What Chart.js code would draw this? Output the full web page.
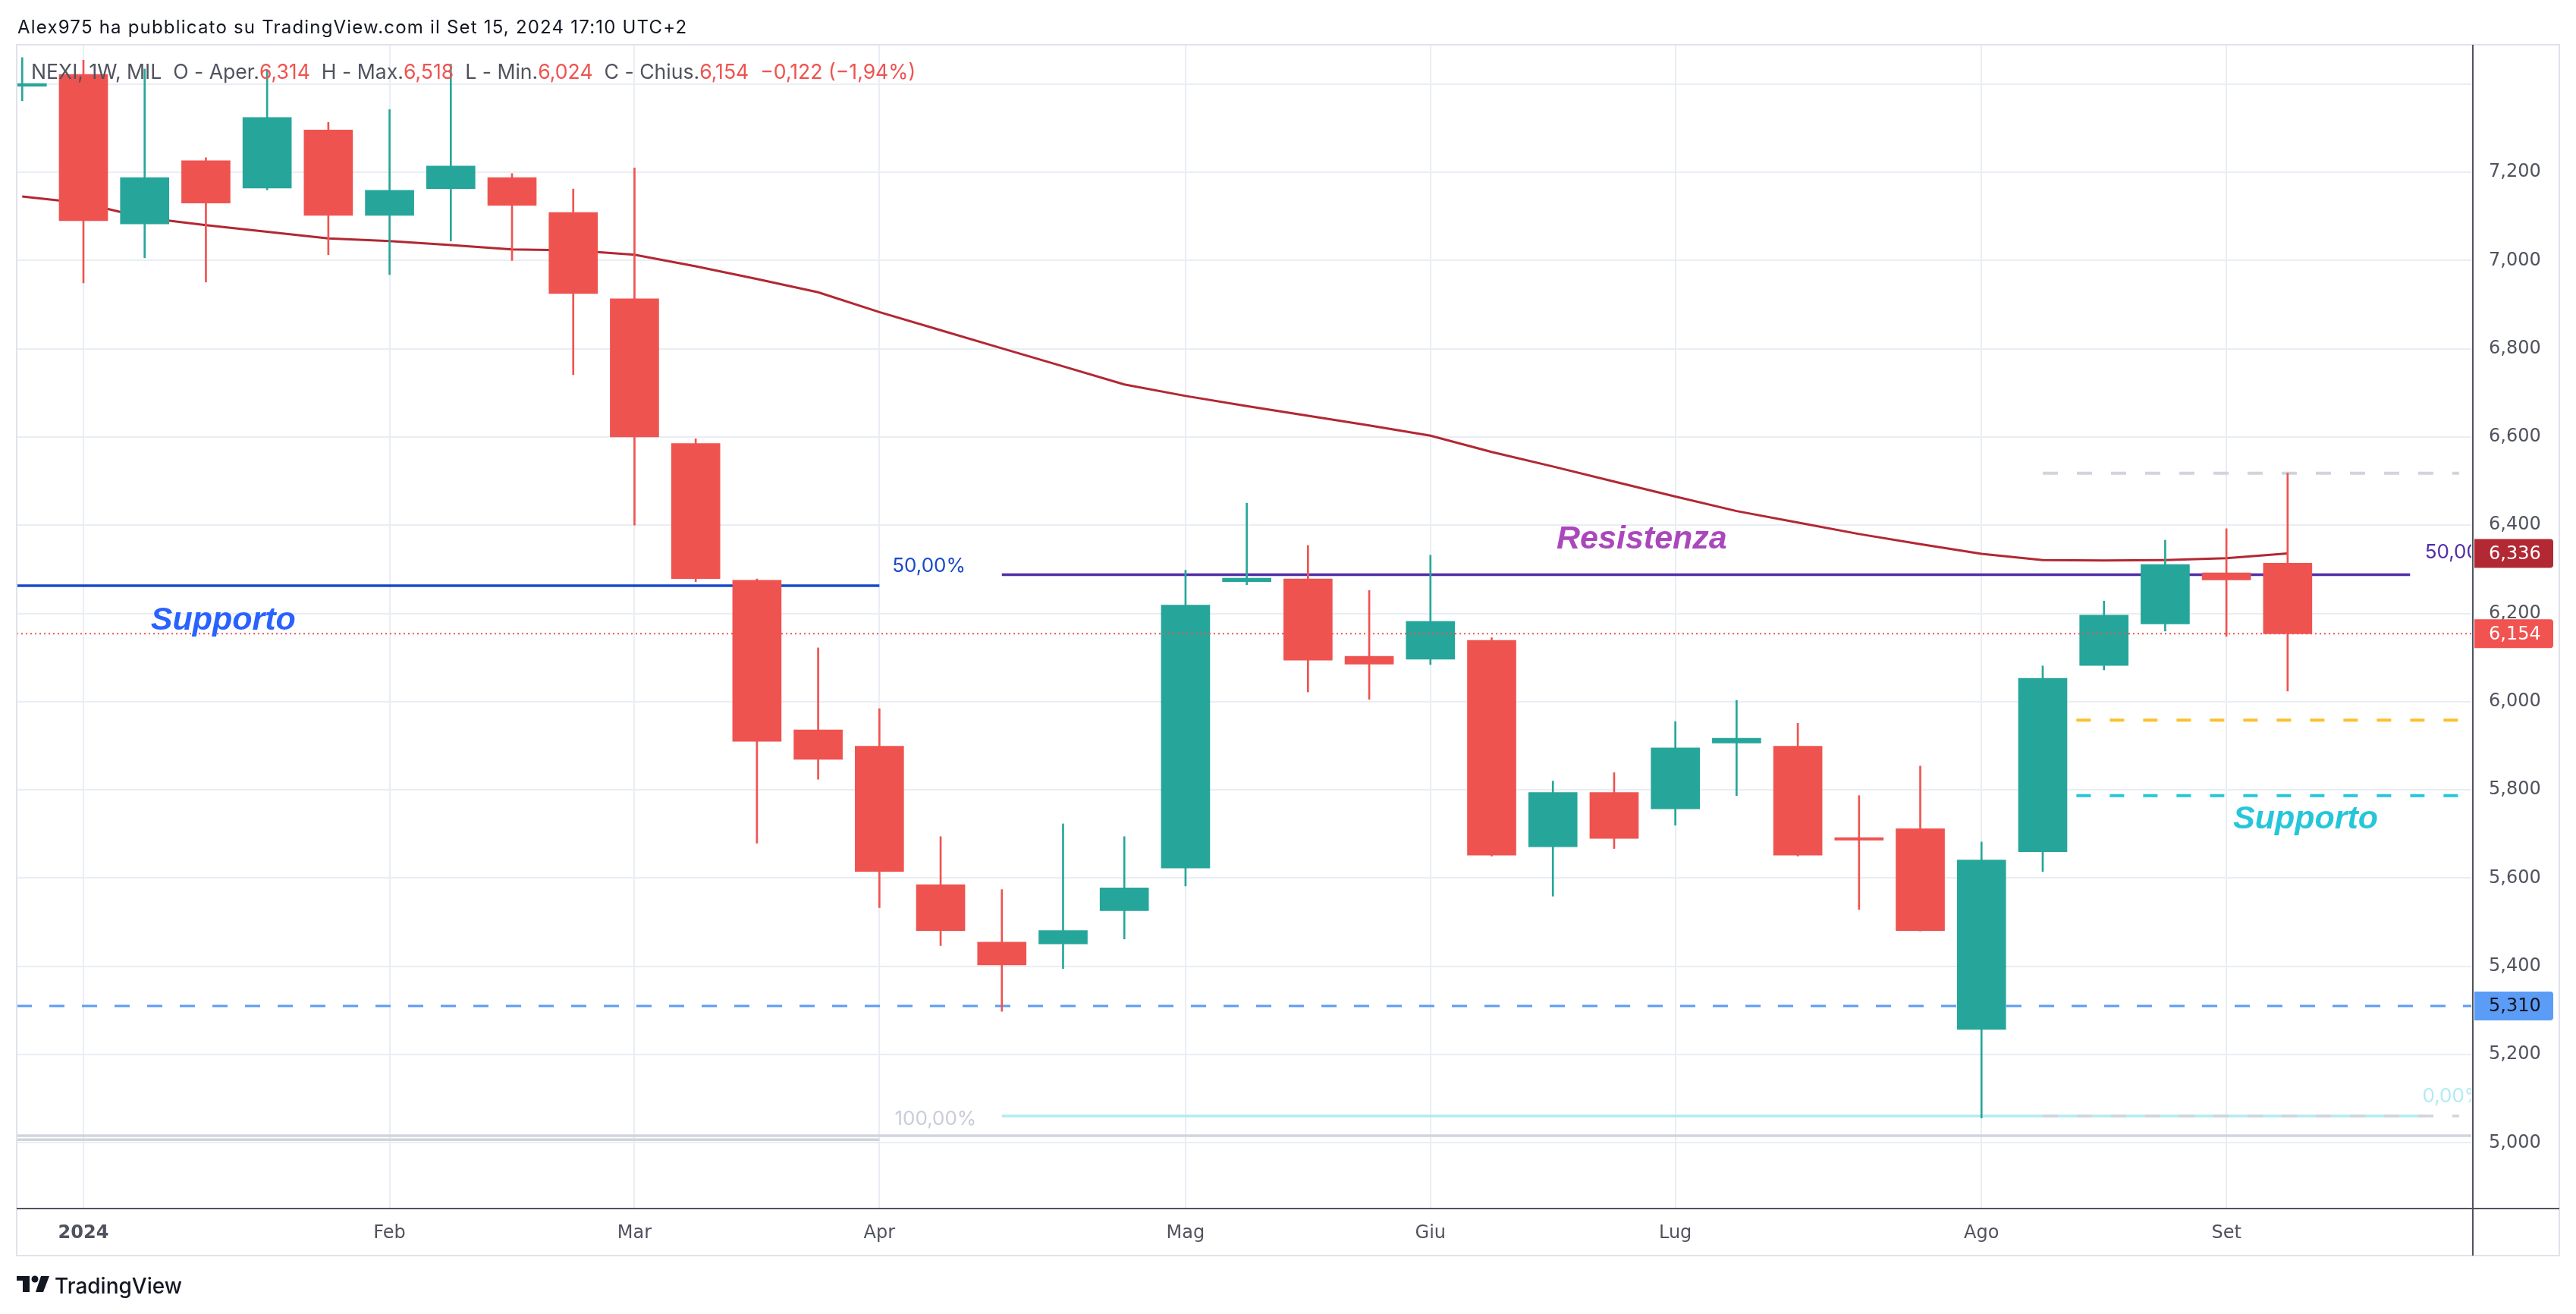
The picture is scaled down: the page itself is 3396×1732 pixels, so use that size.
<!DOCTYPE html>
<html lang="it">
<head>
  <meta charset="UTF-8">
  <title>NEXI 1W - MIL</title>
  <script src="https://cdn.jsdelivr.net/npm/chart.js"></script>
  <style>
    html, body { margin: 0; padding: 0; background: #fff; }
    #wrap { position: relative; width: 3396px; height: 1732px; }
    canvas { display: block; }
  </style>
</head>
<body>
<div id="wrap"><canvas id="nexiChart" width="3396" height="1732"></canvas></div>

<script>
// weekly bars, index 0 = week of 25 Dec 2023
const weeks  = ['2023-12-25','2024-01-01','2024-01-08','2024-01-15','2024-01-22','2024-01-29','2024-02-05','2024-02-12',
                '2024-02-19','2024-02-26','2024-03-04','2024-03-11','2024-03-18','2024-03-25','2024-04-01','2024-04-08',
                '2024-04-15','2024-04-22','2024-04-29','2024-05-06','2024-05-13','2024-05-20','2024-05-27','2024-06-03',
                '2024-06-10','2024-06-17','2024-06-24','2024-07-01','2024-07-08','2024-07-15','2024-07-22','2024-07-29',
                '2024-08-05','2024-08-12','2024-08-19','2024-08-26','2024-09-02','2024-09-09'];
const opens  = [7.395, 7.422, 7.083, 7.226, 7.164, 7.296, 7.102, 7.163, 7.188, 7.109, 6.913, 6.585, 6.275, 5.936, 5.899, 5.585,
                5.455, 5.451, 5.526, 5.623, 6.272, 6.278, 6.103, 6.096, 6.139, 5.671, 5.794, 5.757, 5.906, 5.899, 5.692, 5.712,
                5.257, 5.660, 6.082, 6.176, 6.292, 6.314];
const highs  = [7.460, 7.454, 7.434, 7.233, 7.430, 7.313, 7.342, 7.445, 7.197, 7.162, 7.210, 6.596, 6.278, 6.122, 5.984, 5.694,
                5.574, 5.723, 5.694, 6.298, 6.450, 6.354, 6.252, 6.332, 6.145, 5.820, 5.839, 5.955, 6.003, 5.951, 5.787, 5.854,
                5.682, 6.081, 6.228, 6.366, 6.392, 6.518];
const lows   = [7.362, 6.949, 7.006, 6.951, 7.160, 7.013, 6.968, 7.044, 7.000, 6.741, 6.400, 6.272, 5.679, 5.824, 5.533, 5.447,
                5.298, 5.395, 5.462, 5.582, 6.265, 6.022, 6.005, 6.084, 5.650, 5.559, 5.667, 5.720, 5.787, 5.650, 5.529, 5.480,
                5.056, 5.615, 6.072, 6.160, 6.148, 6.024];
const closes = [7.401, 7.090, 7.188, 7.130, 7.324, 7.102, 7.159, 7.214, 7.125, 6.925, 6.600, 6.279, 5.910, 5.869, 5.615, 5.481,
                5.403, 5.481, 5.578, 6.219, 6.280, 6.094, 6.085, 6.182, 5.652, 5.794, 5.690, 5.895, 5.917, 5.652, 5.686, 5.481,
                5.641, 6.053, 6.196, 6.311, 6.276, 6.154];
// moving average
const movAvg = [7.145, 7.130, 7.097, 7.080, 7.065, 7.050, 7.044, 7.035, 7.025, 7.023, 7.013, 6.987, 6.958, 6.928, 6.883, 6.842,
                6.801, 6.760, 6.719, 6.693, 6.670, 6.648, 6.626, 6.603, 6.566, 6.533, 6.499, 6.465, 6.432, 6.406, 6.380, 6.357,
                6.335, 6.321, 6.320, 6.321, 6.325, 6.336];

const monthTicks  = [1, 6, 10, 14, 19, 23, 27, 32, 36];
const monthLabels = ['2024', 'Feb', 'Mar', 'Apr', 'Mag', 'Giu', 'Lug', 'Ago', 'Set'];
const priceTicks  = [5.0, 5.2, 5.4, 5.6, 5.8, 6.0, 6.2, 6.4, 6.6, 6.8, 7.0, 7.2, 7.4];
const priceLabels = ['5,000', '5,200', '5,400', '5,600', '5,800', '6,000', '6,200', '6,400', '6,600', '6,800', '7,000', '7,200', ''];

// drawn levels
const supportLeft = 6.263;
const resistLevel = 6.288;
const fibZero     = 5.061;
const baseLevels  = [5.016, 5.007];
const orangeLevel = 5.958;
const cyanLevel   = 5.787;
const blueSupport = 5.310;

const X_MIN = -0.09, X_MAX = 40.0;
const GREEN = '#26a69a', RED = '#ef5350';
const AXIS_FONT = '"DejaVu Sans", sans-serif';

const fmt = v => v.toFixed(3).replace('.', ',');
const idx = opens.map((_, i) => i);
const barColors = idx.map(i => closes[i] >= opens[i] ? GREEN : RED);

function hline(level, x0, x1, color, width, dash, order) {
  return {
    type: 'line',
    data: [{x: x0, y: level}, {x: x1, y: level}],
    borderColor: color,
    borderWidth: width,
    borderDash: dash || [],
    borderCapStyle: 'butt',
    pointRadius: 0,
    order: order,
    clip: 0
  };
}

const last = opens.length - 1;
const prevClose = closes[last - 1];
const change = closes[last] - prevClose;
const sign = change < 0 ? '\u2212' : '+';
const pct = (Math.abs(change) / prevClose * 100).toFixed(2).replace('.', ',');

const overlay = {
  id: 'overlay',
  afterDraw(chart) {
    const {ctx, chartArea: a, scales: {x, y}} = chart;
    const frameRight = chart.width - 22;
    const frameBottom = x.bottom;

    ctx.save();
    // frame
    ctx.strokeStyle = '#e0e3eb';
    ctx.lineWidth = 2;
    ctx.strokeRect(a.left, a.top, frameRight - a.left, frameBottom - a.top);
    ctx.strokeStyle = '#50535e';
    ctx.beginPath();
    ctx.moveTo(a.left, a.bottom); ctx.lineTo(frameRight, a.bottom);
    ctx.moveTo(a.right + 2, a.top); ctx.lineTo(a.right + 2, frameBottom);
    ctx.stroke();

    // text drawings, clipped to the plot
    ctx.save();
    ctx.beginPath();
    ctx.rect(a.left, a.top, a.right - a.left, a.bottom - a.top);
    ctx.clip();
    ctx.textBaseline = 'alphabetic';
    ctx.font = 'italic bold 43px "Liberation Sans", Arial, sans-serif';
    ctx.fillStyle = '#2962ff';
    ctx.fillText('Supporto', x.getPixelForValue(2.10), y.getPixelForValue(6.163));
    ctx.fillStyle = '#ab47bc';
    ctx.fillText('Resistenza', x.getPixelForValue(25.06), y.getPixelForValue(6.347));
    ctx.fillStyle = '#26c6da';
    ctx.fillText('Supporto', x.getPixelForValue(36.11), y.getPixelForValue(5.7125));

    ctx.textBaseline = 'middle';
    ctx.font = '26px Inter, sans-serif';
    ctx.fillStyle = '#1848cc';
    ctx.fillText('50,00%', x.getPixelForValue(14.21), y.getPixelForValue(6.3075));
    ctx.fillStyle = '#c9ccd9';
    ctx.fillText('100,00%', x.getPixelForValue(14.25), y.getPixelForValue(5.053));
    ctx.fillStyle = '#512da8';
    ctx.fillText('50,00%', x.getPixelForValue(39.24), y.getPixelForValue(6.3376));
    ctx.fillStyle = '#b2ebf2';
    ctx.fillText('0,00%', x.getPixelForValue(39.2), y.getPixelForValue(5.105));
    ctx.restore();

    // price boxes on the right scale
    const box = (value, bg, fg) => {
      const cy = y.getPixelForValue(value);
      const bx = a.right + 4, bw = 104, bh = 38;
      ctx.fillStyle = bg;
      ctx.beginPath();
      ctx.roundRect(bx, cy - bh / 2, bw, bh, [0, 4, 4, 0]);
      ctx.fill();
      ctx.fillStyle = fg;
      ctx.font = '24px ' + AXIS_FONT;
      ctx.textBaseline = 'middle';
      ctx.fillText(fmt(value), a.right + 23, cy + 1);
    };
    box(movAvg[last], '#b22833', '#ffffff');
    box(closes[last], '#f05350', '#ffffff');
    box(blueSupport, '#5b9cf6', '#131722');

    // header
    ctx.textBaseline = 'alphabetic';
    ctx.fillStyle = '#131722';
    ctx.font = '24px Inter, sans-serif';
    ctx.letterSpacing = '1.2px';
    ctx.fillText('Alex975 ha pubblicato su TradingView.com il Set 15, 2024 17:10 UTC+2', 23, 44);
    ctx.letterSpacing = '0px';

    // legend
    const parts = [
      ['NEXI, 1W, MIL', '#50535e'], ['  O - Aper.', '#50535e'], [fmt(opens[last]), RED],
      ['  H - Max.', '#50535e'], [fmt(highs[last]), RED], ['  L - Min.', '#50535e'], [fmt(lows[last]), RED],
      ['  C - Chius.', '#50535e'], [fmt(closes[last]), RED],
      ['  ' + sign + fmt(Math.abs(change)) + ' (' + sign + pct + '%)', RED]
    ];
    ctx.font = '26.6px Inter, sans-serif';
    let lx = 41;
    parts.forEach(([t, c]) => {
      ctx.fillStyle = c;
      ctx.fillText(t, lx, 104);
      lx += ctx.measureText(t).width;
    });

    // footer logo
    const fy = 1682;
    ctx.fillStyle = '#131722';
    ctx.fillRect(22, fy, 17, 6);
    ctx.fillRect(30, fy, 9, 21);
    ctx.beginPath();
    ctx.arc(46, fy + 4, 4.5, 0, Math.PI * 2);
    ctx.fill();
    ctx.beginPath();
    ctx.moveTo(54, fy); ctx.lineTo(65, fy); ctx.lineTo(57, fy + 21); ctx.lineTo(47, fy + 21);
    ctx.closePath();
    ctx.fill();
    ctx.font = '500 28px Inter, sans-serif';
    ctx.fillText('TradingView', 72, fy + 23);
    ctx.restore();
  }
};

const ctx = document.getElementById('nexiChart').getContext('2d');
new Chart(ctx, {
  type: 'bar',
  data: {
    datasets: [
      hline(closes[last], X_MIN, X_MAX, RED, 2, [2, 4], 0),
      {
        type: 'bar',
        data: idx.map(i => ({x: i, y: [opens[i], closes[i]]})),
        backgroundColor: barColors,
        barThickness: 64,
        grouped: false,
        borderWidth: 0,
        order: 1,
        clip: 0
      },
      {
        type: 'bar',
        data: idx.map(i => ({x: i, y: [lows[i], highs[i]]})),
        backgroundColor: barColors,
        barThickness: 2,
        grouped: false,
        borderWidth: 0,
        order: 2,
        clip: 0
      },
      {
        type: 'line',
        data: idx.map(i => ({x: i, y: movAvg[i]})),
        borderColor: '#b22833',
        borderWidth: 3,
        pointRadius: 0,
        tension: 0,
        order: 3,
        clip: 0
      },
      hline(resistLevel, 16, 39.0, '#512da8', 3.5, null, 4),
      hline(supportLeft, X_MIN, 14, '#1848cc', 3.5, null, 4),
      hline(blueSupport, X_MIN, X_MAX, '#5b9cf6', 3, [20, 23], 4),
      hline(highs[last], 33, 39.8, '#d1d4dc', 4, [20, 25], 4),
      hline(orangeLevel, 33.55, 39.8, '#fbc02d', 4, [19, 25], 4),
      hline(cyanLevel, 33.55, 39.8, '#26c6da', 4, [19, 25], 4),
      hline(fibZero, 33, 39.8, '#d1d4dc', 3.5, [20, 25], 4),
      hline(fibZero, 16, 39.25, '#b2ebf2', 3.5, null, 5),
      hline(baseLevels[0], X_MIN, X_MAX, '#d1d4dc', 3.5, null, 5),
      hline(baseLevels[1], X_MIN, 14, '#d1d4dc', 3.5, null, 5)
    ]
  },
  options: {
    responsive: false,
    animation: false,
    events: [],
    layout: { padding: { left: 22, top: 59, right: 22, bottom: 77 } },
    plugins: { legend: { display: false }, tooltip: { enabled: false } },
    scales: {
      x: {
        type: 'linear',
        min: X_MIN,
        max: X_MAX,
        offset: false,
        afterBuildTicks: s => { s.ticks = monthTicks.map(v => ({value: v})); },
        afterFit: s => { s.height = 62; },
        grid: { color: '#e9eef4', lineWidth: 2, drawTicks: false, offset: false },
        border: { display: false },
        ticks: {
          autoSkip: false,
          maxRotation: 0,
          padding: 18,
          color: '#50535e',
          font: c => ({ family: AXIS_FONT, size: 24, weight: c.index === 0 ? 'bold' : 'normal' }),
          callback: (v, i) => monthLabels[i]
        }
      },
      y: {
        type: 'linear',
        position: 'right',
        min: 4.851,
        max: 7.489,
        afterBuildTicks: s => { s.ticks = priceTicks.map(v => ({value: v})); },
        afterFit: s => { s.width = 116; },
        grid: { color: '#e9eef4', lineWidth: 2, drawTicks: false },
        border: { display: false },
        ticks: {
          padding: 23,
          color: '#50535e',
          font: { family: AXIS_FONT, size: 24 },
          callback: (v, i) => priceLabels[i]
        }
      }
    }
  },
  plugins: [overlay]
});
</script>
</body>
</html>
